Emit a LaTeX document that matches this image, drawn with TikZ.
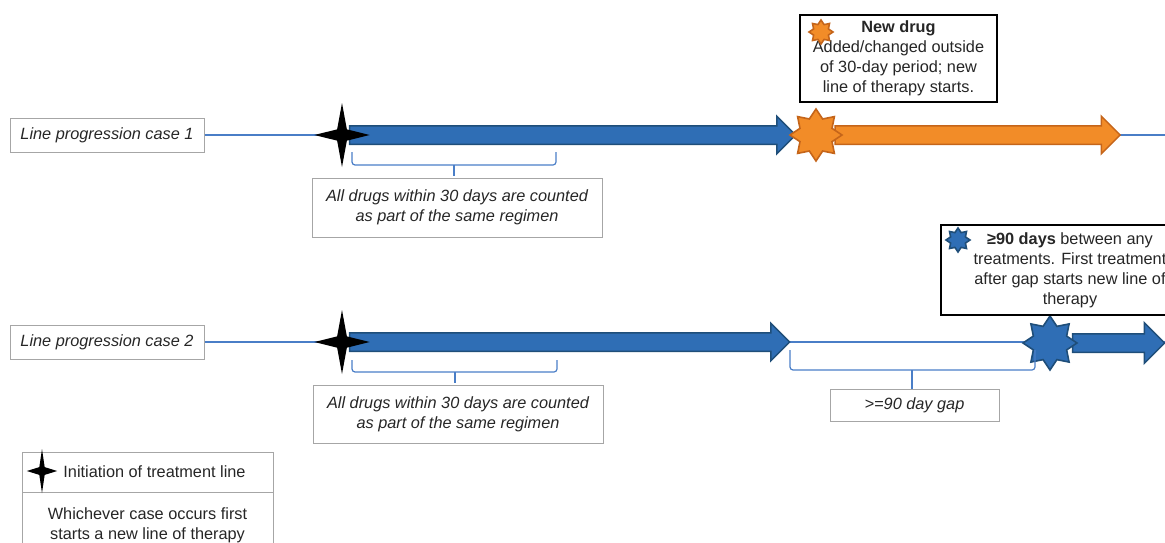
\documentclass[tikz,border=0pt]{standalone}
\usepackage{fontspec}
\setmainfont{Liberation Sans}
\usetikzlibrary{positioning,calc,shapes.geometric,shapes.arrows}
\definecolor{barblue}{HTML}{2F6EB5}
\definecolor{bardark}{HTML}{1F4E79}
\definecolor{lineblue}{HTML}{4A7EC7}
\definecolor{barorange}{HTML}{F28C28}
\definecolor{orangedark}{HTML}{C5651A}
\definecolor{boxgray}{HTML}{A6A6A6}
\definecolor{inkgray}{HTML}{262626}

\begin{document}
\begin{tikzpicture}[
  x=1pt, y=-1pt,
  txt/.style={text=inkgray, font=\fontsize{16.3}{20}\selectfont},
  casebox/.style={txt, draw=boxgray, line width=1pt, minimum width=194pt,
                  minimum height=34pt, inner sep=0pt, font=\fontsize{16.3}{20}\selectfont\itshape},
  notebox/.style={txt, draw=boxgray, line width=1pt, align=center, inner sep=0pt,
                  font=\fontsize{16.3}{20}\selectfont\itshape},
  keybox/.style={txt, draw=black, line width=2.6pt, fill=white, align=center, inner sep=0pt},
  legendbox/.style={txt, draw=boxgray, line width=1pt, align=center, inner sep=0pt,
                    minimum width=251pt},
  thinline/.style={draw=lineblue, line width=1.2pt},
  bracket/.style={draw=lineblue, line width=1.2pt, rounded corners=3pt},
  initstar/.style={star, star points=4, star point ratio=4, fill=black,
                   inner sep=0pt, minimum size=64pt, xscale=0.86},
  burst/.style={star, star points=8, star point ratio=1.5, inner sep=0pt,
                line width=1.6pt, minimum size=#1},
  orangeburst/.style={burst=#1, fill=barorange, draw=orangedark},
  blueburst/.style={burst=#1, fill=barblue, draw=bardark},
  bar/.style={single arrow, inner xsep=0pt, inner ysep=8.5pt,
              single arrow head extend=9.5pt, line width=1.5pt},
  bluebar/.style={bar, fill=barblue, draw=bardark},
  orangebar/.style={bar, fill=barorange, draw=orangedark}
]
\clip (0,0) rectangle (1165,543);

%% Line progression case 1
\node[casebox] (case1) at (107,135) {Line progression case 1};
\coordinate (init1) at (342,135);
\coordinate (end1) at (1165,135);
\draw[thinline] (case1.east) -- (init1);
\draw[thinline] (1110,135) -- (end1);
\node[bluebar, minimum height=446pt] (reg1) at (568,135) {};
\node[orangebar, minimum height=285pt] (reg2) at (973,135) {};
\node[initstar] (start1) at (init1) {};
\node[orangeburst=52pt] (newdrug) at (816,135) {};
\draw[bracket] (352,152) -- (352,165) -- (556,165) -- (556,152);
\draw[bracket] (454,165) -- (454,176);
\node[notebox, minimum width=290pt, minimum height=59pt] (same1) at (457,207.5)
  {All drugs within 30 days are counted\\as part of the same regimen};
\node[keybox, minimum width=197pt, minimum height=87pt] (newkey) at (898.5,58.5)
  {\textbf{New drug}\\Added/changed outside\\of 30-day period; new\\line of therapy starts.};
\node[orangeburst=24pt] at (821,32) {};

%% Line progression case 2
\node[casebox] (case2) at (107,342) {Line progression case 2};
\coordinate (init2) at (342,342);
\coordinate (end2) at (1165,342);
\draw[thinline] (case2.east) -- (init2);
\draw[thinline] (780,342) -- (1050,342);
\draw[thinline] (1155,342) -- (end2);
\node[bluebar, minimum height=440pt] (reg3) at (565,342) {};
\node[bluebar, minimum height=92pt, single arrow head extend=11pt] (reg4) at (1114,343) {};
\node[blueburst=54pt] (gapstar) at (1050,343) {};
\node[initstar] (start2) at (init2) {};
\draw[bracket] (352,360) -- (352,372) -- (557,372) -- (557,360);
\draw[bracket] (455,372) -- (455,383);
\draw[bracket] (790,350) -- (790,370) -- (1035,370) -- (1035,350);
\draw[bracket] (912,370) -- (912,389);
\node[notebox, minimum width=290pt, minimum height=58pt] (same2) at (458,414)
  {All drugs within 30 days are counted\\as part of the same regimen};
\node[notebox, minimum width=169pt, minimum height=32pt] (gap) at (914.5,405) {>=90 day gap};
\node[keybox, minimum width=258pt, minimum height=90pt] (gapkey) at (1070,270)
  {\textbf{≥90 days} between any\\treatments. First treatment\\after gap starts new line of\\therapy};
\node[blueburst=24pt] at (958,240) {};

%% Legend
\node[legendbox, minimum height=40pt] (legtop) at (147.5,472) {\hspace*{14pt}Initiation of treatment line};
\node[legendbox, minimum height=76pt, text depth=0pt] (legbot) at (147.5,530)
  {\raisebox{22pt}{\parbox{251pt}{\centering Whichever case occurs first\\starts a new line of therapy}}};
\node[initstar, minimum size=44pt, xscale=0.8] (legstar) at (42,471) {};
\end{tikzpicture}
\end{document}
